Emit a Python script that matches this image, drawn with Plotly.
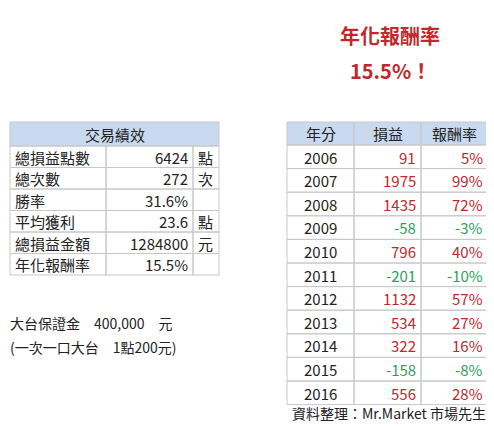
import plotly.graph_objects as go

strategy_lines = ["策略：", "大盤站上月線買進台指期", "大盤跌破月線賣出放空台指期", "虧損1%時停損"]
perf_labels = ["總損益點數", "總次數", "勝率", "平均獲利", "總損益金額", "年化報酬率"]
perf_values = ["6424", "272", "31.6%", "23.6", "1284800", "15.5%"]
perf_units = ["點", "次", "", "點", "元", ""]
years = ["2006", "2007", "2008", "2009", "2010", "2011", "2012", "2013", "2014", "2015", "2016"]
pnl = [91, 1975, 1435, -58, 796, -201, 1132, 534, 322, -158, 556]
ret = [5, 99, 72, -3, 40, -10, 57, 27, 16, -8, 28]

FONT = "Noto Sans CJK TC"
RED, GREEN, HEAD, GRID = "#c0282d", "#2e9e5b", "#c9daf0", "#c8c8c8"
shapes, ann = [], []

def txt(x, y, s, size=15, color="#222", anchor="left", bold=False):
    ann.append(dict(x=x, y=y, text=f"<b>{s}</b>" if bold else s, showarrow=False, xanchor=anchor,
                    yanchor="middle", font=dict(family=FONT, size=size, color=color)))

def rect(x0, y0, x1, y1, fill=None):
    shapes.append(dict(type="rect", x0=x0, y0=y0, x1=x1, y1=y1, line=dict(color=GRID, width=1),
                       fillcolor=fill or "rgba(0,0,0,0)", layer="below"))

for i, s in enumerate(strategy_lines):
    txt(6, 18 + i * 22, s, 16)
txt(390, 35, "年化報酬率", 20, RED, "center", True)
txt(390, 70, "15.5%！", 20, RED, "center", True)

# left table
lx = [10, 106, 193, 219]
rect(lx[0], 122, lx[3], 146, HEAD)
txt((lx[0] + lx[3]) / 2, 134, "交易績效", 15, "#222", "center")
for i in range(len(perf_labels)):
    y0 = 146 + i * 21.5
    for c in range(3):
        rect(lx[c], y0, lx[c + 1], y0 + 21.5)
    yc = y0 + 11
    txt(lx[0] + 3, yc, perf_labels[i], 15)
    txt(lx[2] - 3, yc, perf_values[i], 15, "#222", "right")
    if perf_units[i]:
        txt(lx[2] + 3, yc, perf_units[i], 15)
txt(8, 323, "大台保證金　400,000　元", 14)
txt(8, 347, "(一次一口大台　1點200元)", 14)

# right table
rx = [287, 354, 421, 488]
heads = ["年分", "損益", "報酬率"]
for c in range(3):
    rect(rx[c], 122, rx[c + 1], 145, HEAD)
    txt((rx[c] + rx[c + 1]) / 2, 133, heads[c], 15, "#222", "center")
for i, yr in enumerate(years):
    y0 = 145 + i * 23.6
    for c in range(3):
        rect(rx[c], y0, rx[c + 1], y0 + 23.6)
    yc = y0 + 12
    col = RED if pnl[i] >= 0 else GREEN
    txt((rx[0] + rx[1]) / 2, yc, yr, 15, "#222", "center")
    txt(rx[2] - 3, yc, str(pnl[i]), 15, col, "right")
    txt(rx[3] - 3, yc, f"{ret[i]}%", 15, col, "right")
txt(488, 413, "資料整理：Mr.Market 市場先生", 14, "#222", "right")

# page body has an 8px margin, so the figure is offset by 8px
fig = go.Figure()
fig.update_layout(width=486, height=420, margin=dict(l=0, r=0, t=0, b=0),
                  paper_bgcolor="white", plot_bgcolor="white", shapes=shapes, annotations=ann,
                  xaxis=dict(range=[8, 494], visible=False, fixedrange=True),
                  yaxis=dict(range=[428, 8], visible=False, fixedrange=True), showlegend=False)
fig.write_html("out.html")
